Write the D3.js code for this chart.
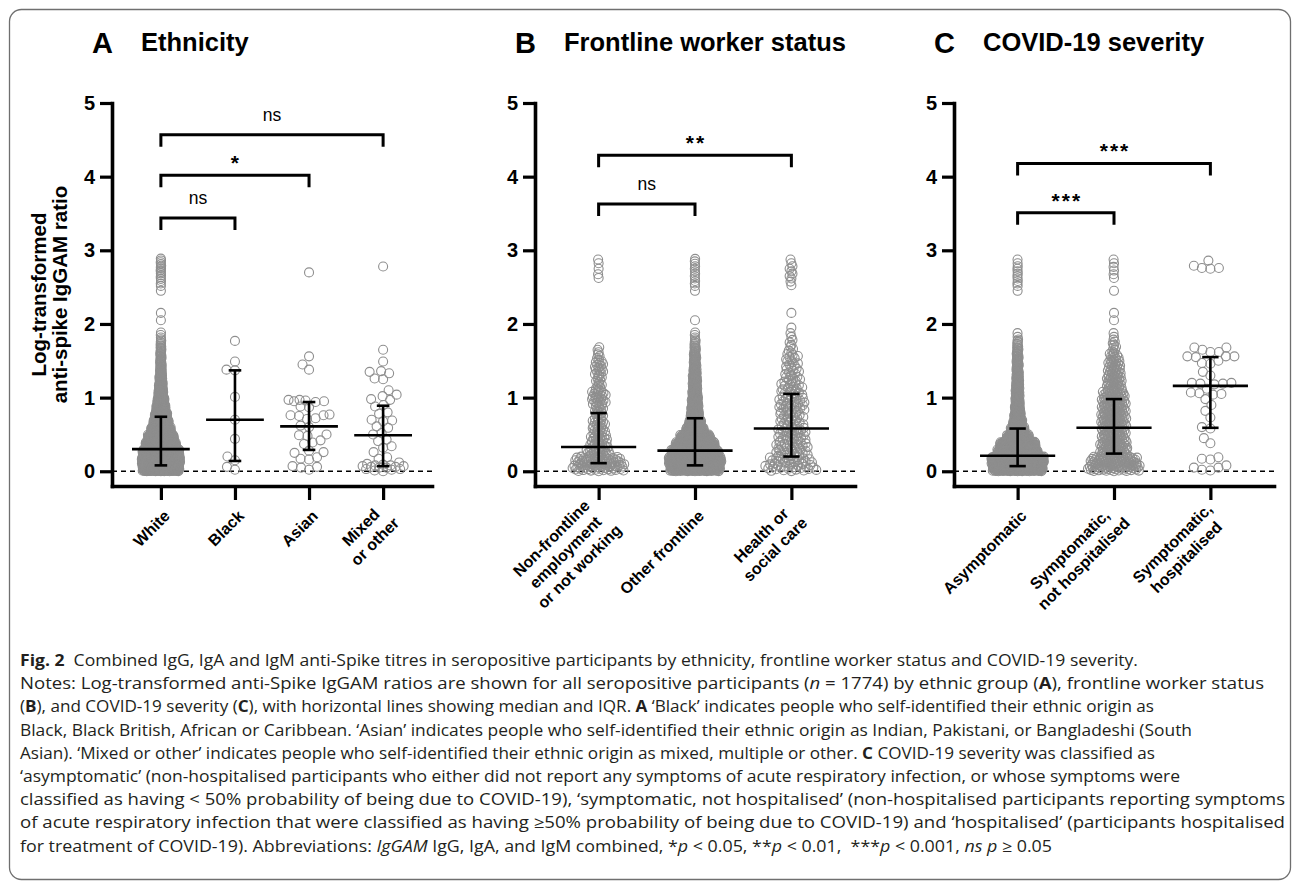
<!DOCTYPE html>
<html>
<head>
<meta charset="utf-8">
<script src="https://cdn.jsdelivr.net/npm/d3@7"></script>
<style>
  body { margin: 0; background: #fff; }
  svg text { font-family: "Liberation Sans", Arial, sans-serif; }
</style>
</head>
<body>
<svg id="fig" width="1293" height="883"></svg>
<script>
// ---- data ----
const yTicks = [0, 1, 2, 3, 4, 5];
const BIN = 0.1; // bin counts below are per 0.1 step, starting at 0

const ethnicityLabels = [['White'], ['Black'], ['Asian'], ['Mixed', 'or other']];
const frontlineLabels = [['Non-frontline', 'employment', 'or not working'], ['Other frontline'], ['Health or', 'social care']];
const severityLabels = [['Asymptomatic'], ['Symptomatic,', 'not hospitalised'], ['Symptomatic,', 'hospitalised']];

// dense groups: counts per 0.1 bin
const whiteBins = [240, 250, 240, 200, 170, 130, 102, 82, 62, 48, 34, 27, 21, 14, 12, 10, 8, 6, 3, 0, 1, 1, 0, 0, 1, 3, 4, 5, 4];
const nonFrontlineBins = [40, 36, 19, 15, 14, 11, 11, 8, 8, 12, 12, 6, 6, 8, 8, 4, 3, 0, 0, 0, 0, 0, 0, 0, 0, 0, 2, 1, 2];
const otherFrontlineBins = [190, 200, 180, 150, 115, 70, 48, 34, 30, 26, 22, 19, 18, 15, 12, 11, 8, 6, 3, 0, 1, 0, 0, 0, 1, 3, 3, 3, 3];
const healthCareBins = [24, 20, 16, 16, 14, 14, 12, 12, 13, 13, 11, 11, 9, 8, 7, 7, 4, 3, 2, 1, 0, 1, 0, 0, 0, 2, 3, 3, 2];
const asymptomaticBins = [210, 220, 170, 150, 95, 60, 40, 30, 24, 20, 18, 16, 14, 12, 11, 10, 8, 5, 2, 0, 0, 0, 0, 0, 1, 3, 3, 3, 2];
const notHospitalisedBins = [50, 45, 27, 27, 24, 24, 25, 25, 24, 24, 22, 16, 16, 14, 13, 10, 5, 4, 2, 0, 1, 1, 0, 0, 1, 0, 2, 2, 2];

// sparse groups: individual values
const blackValues = [1.77, 1.49, 1.38, 1.37, 1.01, 0.70, 0.44, 0.20, 0.15, 0.06, 0.02];
const asianValues = [2.70, 1.56, 1.45, 1.38, 0.97, 0.97, 0.96, 0.95, 0.95, 0.94, 0.88, 0.87, 0.77, 0.76, 0.76, 0.75,
  0.72, 0.71, 0.62, 0.60, 0.50, 0.49, 0.48, 0.42, 0.39, 0.37, 0.28, 0.26, 0.25, 0.19, 0.17, 0.16, 0.07, 0.06, 0.05, 0.02];
const mixedValues = [2.78, 1.65, 1.49, 1.36, 1.35, 1.33, 1.26, 1.25, 1.10, 1.04, 1.02, 0.98, 0.97, 0.90, 0.88, 0.80,
  0.78, 0.70, 0.69, 0.68, 0.61, 0.59, 0.52, 0.50, 0.43, 0.41, 0.34, 0.32, 0.26, 0.19, 0.17, 0.12, 0.10, 0.09, 0.08,
  0.08, 0.07, 0.07, 0.06, 0.06, 0.05, 0.05, 0.03, 0.03, 0.02, 0.01, 0.00];
const hospitalisedValues = [2.86, 2.79, 2.76, 2.76, 2.75, 1.68, 1.68, 1.65, 1.62, 1.62, 1.56, 1.56, 1.56, 1.55, 1.50,
  1.47, 1.46, 1.35, 1.30, 1.20, 1.20, 1.19, 1.19, 1.18, 1.12, 1.07, 1.06, 1.05, 1.04, 0.98, 0.90, 0.82, 0.73, 0.60,
  0.58, 0.45, 0.38, 0.19, 0.17, 0.16, 0.08, 0.05, 0.05, 0.02, 0.01];

// median and IQR per group
const ethnicityMedian = [0.30, 0.70, 0.61, 0.49];
const ethnicityQ1 = [0.08, 0.14, 0.29, 0.07];
const ethnicityQ3 = [0.74, 1.37, 0.94, 0.89];
const frontlineMedian = [0.33, 0.28, 0.58];
const frontlineQ1 = [0.11, 0.08, 0.20];
const frontlineQ3 = [0.79, 0.72, 1.05];
const severityMedian = [0.21, 0.59, 1.16];
const severityQ1 = [0.07, 0.24, 0.59];
const severityQ3 = [0.58, 0.98, 1.55];

// comparisons: [from, to, bracket level, label]
const ethnicityTests = [[0, 1, 3.44, 'ns'], [0, 2, 4.02, '*'], [0, 3, 4.57, 'ns']];
const frontlineTests = [[0, 1, 3.63, 'ns'], [0, 2, 4.29, '**']];
const severityTests = [[0, 1, 3.51, '***'], [0, 2, 4.18, '***']];

const captionLines = [
  [['Fig. 2', 'b'], ['  Combined IgG, IgA and IgM anti-Spike titres in seropositive participants by ethnicity, frontline worker status and COVID-19 severity.', '']],
  [['Notes: Log-transformed anti-Spike IgGAM ratios are shown for all seropositive participants (', ''], ['n', 'i'], [' = 1774) by ethnic group (', ''], ['A', 'b'], ['), frontline worker status', '']],
  [['(', ''], ['B', 'b'], ['), and COVID-19 severity (', ''], ['C', 'b'], ['), with horizontal lines showing median and IQR. ', ''], ['A', 'b'], [' ‘Black’ indicates people who self-identified their ethnic origin as', '']],
  [['Black, Black British, African or Caribbean. ‘Asian’ indicates people who self-identified their ethnic origin as Indian, Pakistani, or Bangladeshi (South', '']],
  [['Asian). ‘Mixed or other’ indicates people who self-identified their ethnic origin as mixed, multiple or other. ', ''], ['C', 'b'], [' COVID-19 severity was classified as', '']],
  [['‘asymptomatic’ (non-hospitalised participants who either did not report any symptoms of acute respiratory infection, or whose symptoms were', '']],
  [['classified as having < 50% probability of being due to COVID-19), ‘symptomatic, not hospitalised’ (non-hospitalised participants reporting symptoms', '']],
  [['of acute respiratory infection that were classified as having ≥50% probability of being due to COVID-19) and ‘hospitalised’ (participants hospitalised', '']],
  [['for treatment of COVID-19). Abbreviations: ', ''], ['IgGAM', 'i'], [' IgG, IgA, and IgM combined, *', ''], ['p', 'i'], [' < 0.05, **', ''], ['p', 'i'],
   [' < 0.01,  ***', ''], ['p', 'i'], [' < 0.001, ', ''], ['ns p', 'i'], [' ≥ 0.05', '']]
];

// ---- layout ----
const panels = [
  { letter: 'A', title: 'Ethnicity', x0: 112, labels: ethnicityLabels,
    groups: [{ bins: whiteBins }, { values: blackValues }, { values: asianValues }, { values: mixedValues }],
    median: ethnicityMedian, q1: ethnicityQ1, q3: ethnicityQ3, tests: ethnicityTests },
  { letter: 'B', title: 'Frontline worker status', x0: 535, labels: frontlineLabels,
    groups: [{ bins: nonFrontlineBins }, { bins: otherFrontlineBins }, { bins: healthCareBins }],
    median: frontlineMedian, q1: frontlineQ1, q3: frontlineQ3, tests: frontlineTests },
  { letter: 'C', title: 'COVID-19 severity', x0: 954, labels: severityLabels,
    groups: [{ bins: asymptomaticBins }, { bins: notHospitalisedBins }, { values: hospitalisedValues }],
    median: severityMedian, q1: severityQ1, q3: severityQ3, tests: severityTests }
];

const R = 4.5;         // dot radius
const PLOT_W = 320;    // x axis length
const captionEnds = [1138, 1264, 1154, 1192, 1155, 1180, 1285, 1285, 1052];

const svg = d3.select('#fig');

svg.append('rect')
  .attr('x', 9.5).attr('y', 9.5)
  .attr('width', 1281).attr('height', 870)
  .attr('rx', 12)
  .attr('fill', 'none')
  .attr('stroke', '#6f6f6f')
  .attr('stroke-width', 1.3);

const y = d3.scaleLinear().domain([-0.2, 5]).range([486, 103]);

// spread dense bins horizontally, row width follows the bin count
function spread(bins, cx, maxHalf) {
  const nMax = d3.max(bins);
  const pts = [];
  bins.forEach((n, b) => {
    const w = nMax > 1 ? maxHalf * Math.max(0, n - 1) / (nMax - 1) : 0;
    for (let i = 0; i < n; i++) {
      const v = b * BIN + (i + 0.5) / n * BIN;
      const u = (i * 0.6180339887 + 0.5) % 1;
      pts.push({ x: cx + w * (2 * u - 1), y: y(v) });
    }
  });
  return pts;
}

// beeswarm for the small groups, squeezed to a max half width
function swarm(values, cx, cap) {
  const D = 2 * R * 0.92;
  const placed = [];
  values.slice().sort((a, b) => a - b).forEach(v => {
    const py = y(v);
    const near = placed.filter(q => Math.abs(q.y - py) < D);
    let best = 0, bestD = -1, done = false;
    for (let k = 0; ; k++) {
      const off = (k % 2 ? -1 : 1) * Math.ceil(k / 2) * 0.5;
      if (Math.abs(off) > cap) break;
      const dmin = d3.min(near, q => Math.hypot(q.x - (cx + off), q.y - py)) ?? Infinity;
      if (dmin >= D) {
        placed.push({ x: cx + off, y: py });
        done = true;
        break;
      }
      if (dmin > bestD) { bestD = dmin; best = off; }
    }
    if (!done) placed.push({ x: cx + best, y: py });
  });
  return placed;
}

function drawPanel(p) {
  const g = svg.append('g');
  const x = d3.scalePoint()
    .domain(d3.range(p.labels.length))
    .range([p.x0, p.x0 + PLOT_W])
    .padding(0.66);
  const step = x.step();

  // title
  g.append('text')
    .attr('x', p.x0 - 20).attr('y', 53)
    .attr('font-size', 29).attr('font-weight', 'bold')
    .text(p.letter);
  g.append('text')
    .attr('x', p.x0 + 29).attr('y', 51)
    .attr('font-size', 25.5).attr('font-weight', 'bold')
    .text(p.title);

  // dashed zero line
  g.append('line')
    .attr('x1', p.x0).attr('x2', p.x0 + PLOT_W)
    .attr('y1', y(0)).attr('y2', y(0))
    .attr('stroke', '#000')
    .attr('stroke-width', 1.6)
    .attr('stroke-dasharray', '5,4');

  // dots
  p.groups.forEach((grp, i) => {
    const cx = x(i);
    const pts = grp.bins
      ? spread(grp.bins, cx, 0.32 * step - R)
      : swarm(grp.values, cx, 0.34 * step - R);
    g.append('g')
      .selectAll('circle')
      .data(pts)
      .join('circle')
      .attr('cx', d => d.x)
      .attr('cy', d => d.y)
      .attr('r', R)
      .attr('fill', 'none')
      .attr('stroke', '#8e8e8e')
      .attr('stroke-width', 1.1);
  });

  // median and IQR
  const mw = 0.39 * step, cw = 0.085 * step;
  const stats = g.append('g').attr('stroke', '#000').attr('stroke-width', 2.6);
  p.median.forEach((m, i) => {
    const cx = x(i);
    stats.append('line').attr('x1', cx - mw).attr('x2', cx + mw).attr('y1', y(m)).attr('y2', y(m));
    stats.append('line').attr('x1', cx).attr('x2', cx).attr('y1', y(p.q1[i])).attr('y2', y(p.q3[i]));
    [p.q1[i], p.q3[i]].forEach(q => {
      stats.append('line').attr('x1', cx - cw).attr('x2', cx + cw).attr('y1', y(q)).attr('y2', y(q));
    });
  });

  // axes
  const yAxis = g.append('g')
    .attr('transform', `translate(${p.x0},0)`)
    .call(d3.axisLeft(y).tickValues(yTicks).tickFormat(d3.format('d'))
      .tickSize(12).tickSizeOuter(0).tickPadding(5));
  const xAxis = g.append('g')
    .attr('transform', `translate(0,${y(-0.2)})`)
    .call(d3.axisBottom(x).tickSize(14).tickSizeOuter(0).tickFormat(() => ''));
  [yAxis, xAxis].forEach(a => {
    a.select('.domain').attr('stroke-width', 3.6).attr('stroke-linecap', 'square');
    a.selectAll('.tick line').attr('stroke-width', 3.2);
  });
  yAxis.selectAll('.tick text')
    .attr('font-size', 20)
    .attr('font-weight', 'bold')
    .attr('font-family', '"Liberation Sans", Arial, sans-serif')
    .attr('fill', '#000');

  // category labels: lines centred on each other, block centred on the tick
  p.labels.forEach((lines, i) => {
    const t = g.append('text')
      .attr('transform', `translate(${x(i) + 6},513) rotate(-45)`)
      .attr('text-anchor', 'middle')
      .attr('font-size', 16)
      .attr('font-weight', 'bold');
    const spans = lines.map((ln, k) => t.append('tspan')
      .attr('dy', k === 0 ? `${0.35 - (lines.length - 1) * 0.62}em` : '1.24em')
      .text(ln));
    const wMax = d3.max(spans, s => s.node().getComputedTextLength());
    spans.forEach(s => s.attr('x', -wMax / 2));
  });

  // significance brackets
  p.tests.forEach(([a, b, lvl, lab]) => {
    const yy = y(lvl), x1 = x(a), x2 = x(b);
    g.append('path')
      .attr('d', `M${x1},${yy + 12}V${yy}H${x2}V${yy + 12}`)
      .attr('fill', 'none')
      .attr('stroke', '#000')
      .attr('stroke-width', 3);
    const star = lab !== 'ns';
    g.append('text')
      .attr('x', (x1 + x2) / 2 + (star ? 1 : 0))
      .attr('y', star ? yy - 5 : yy - 14)
      .attr('text-anchor', 'middle')
      .attr('font-size', star ? 21 : 17.5)
      .attr('font-weight', star ? 'bold' : 'normal')
      .attr('letter-spacing', star ? 2 : 0)
      .text(lab);
  });
}

panels.forEach(drawPanel);

// y axis title (panel A only)
const yTitle = svg.append('g')
  .attr('font-size', 20.5)
  .attr('font-weight', 'bold')
  .attr('text-anchor', 'middle');
[['Log-transformed', 45.5], ['anti-spike IgGAM ratio', 67]].forEach(([s, bx]) => {
  yTitle.append('text')
    .attr('transform', `translate(${bx},${(y(5) + y(-0.2)) / 2}) rotate(-90)`)
    .text(s);
});

// caption
const cap = svg.append('g')
  .attr('font-size', 16)
  .attr('fill', '#231f20');
captionLines.forEach((segs, i) => {
  const t = cap.append('text')
    .attr('x', 20)
    .attr('y', 666 + i * 23.2)
    .attr('textLength', captionEnds[i] - 20)
    .attr('lengthAdjust', 'spacingAndGlyphs')
    .style('white-space', 'pre')
    .style('font-family', '"Open Sans", "Noto Sans", sans-serif');
  segs.forEach(([s, st]) => {
    t.append('tspan')
      .attr('font-weight', st === 'b' ? 'bold' : null)
      .attr('font-style', st === 'i' ? 'italic' : null)
      .text(s);
  });
});
</script>
</body>
</html>
